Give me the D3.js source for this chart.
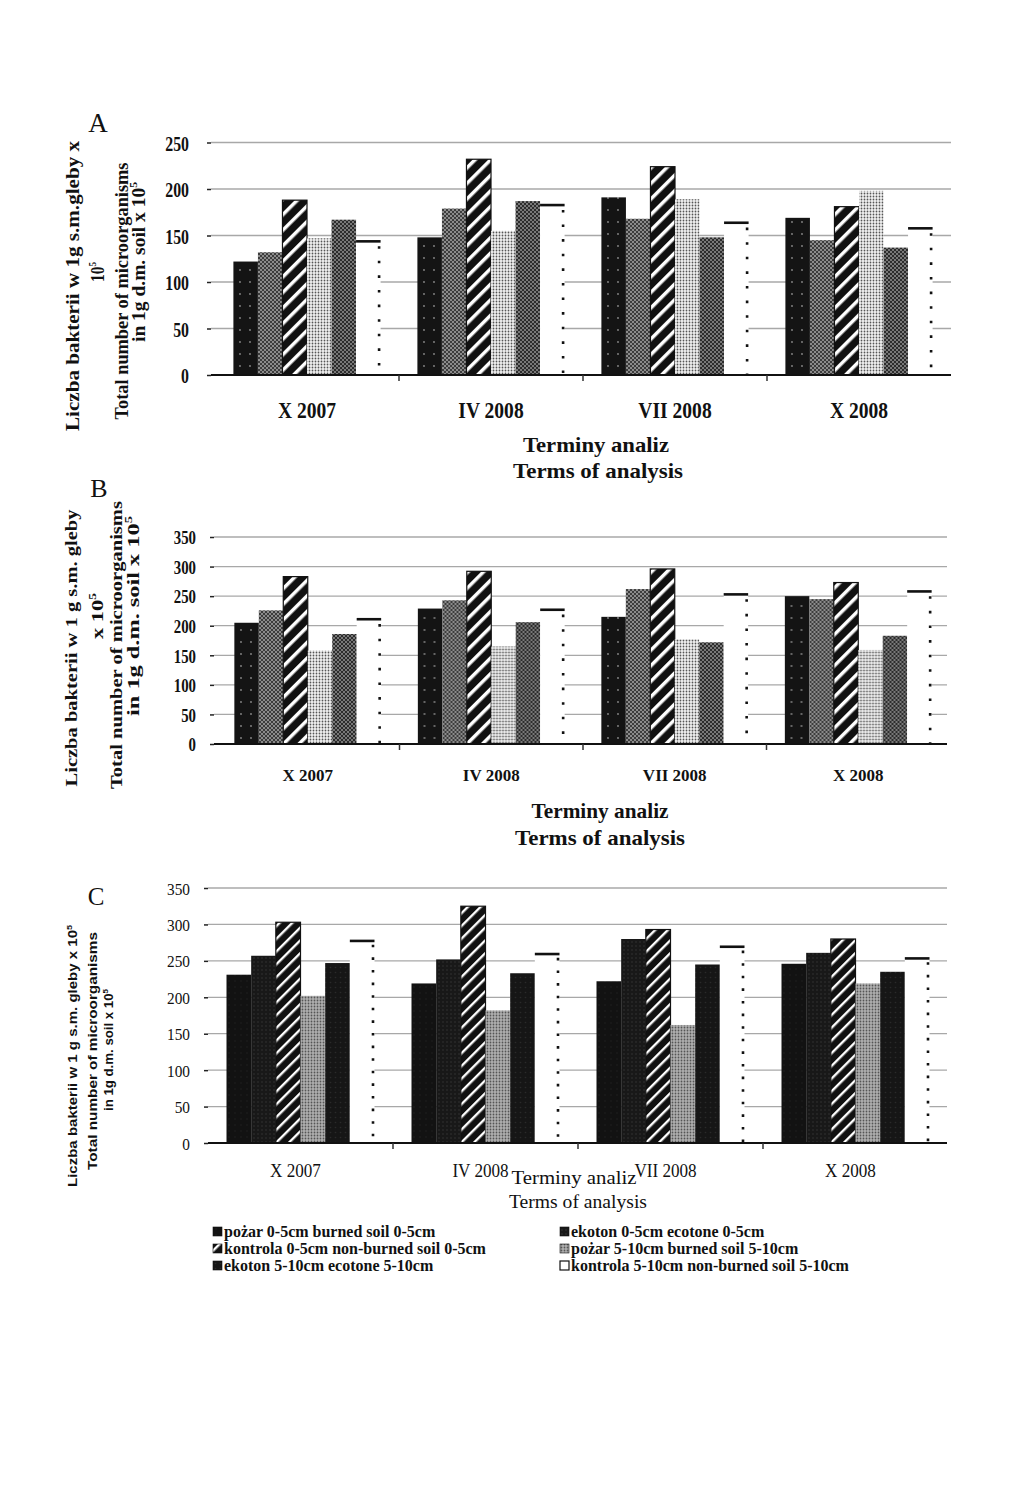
<!DOCTYPE html>
<html>
<head>
<meta charset="utf-8">
<script src="https://cdn.jsdelivr.net/npm/d3@7"></script>
<style>
  body { margin: 0; background: #fff; }
</style>
</head>
<body>
<svg id="chart" width="1024" height="1498"></svg>
<script>
var categories = ["X 2007", "IV 2008", "VII 2008", "X 2008"];
var series = [
  "pożar 0-5cm burned soil 0-5cm",
  "ekoton 0-5cm ecotone 0-5cm",
  "kontrola 0-5cm non-burned soil 0-5cm",
  "pożar 5-10cm burned soil 5-10cm",
  "ekoton 5-10cm ecotone 5-10cm",
  "kontrola 5-10cm non-burned soil 5-10cm"
];
// one row per term of analysis, values in series order
var valuesA = [[122, 132, 188, 147, 167, 145], [148, 179, 232, 155, 187, 184], [191, 168, 224, 189, 148, 165], [169, 145, 181, 198, 137, 159]];
var valuesB = [[205, 226, 283, 158, 186, 213], [229, 243, 292, 165, 206, 229], [215, 262, 296, 177, 172, 255], [250, 245, 273, 159, 183, 260]];
var valuesC = [[231, 257, 303, 202, 247, 279], [219, 252, 325, 182, 233, 261], [222, 280, 293, 162, 245, 271], [246, 261, 280, 219, 235, 255]];
var ticksA = [0, 50, 100, 150, 200, 250];
var ticksBC = [0, 50, 100, 150, 200, 250, 300, 350];

var svg = d3.select("#chart");
var serif = "'Liberation Serif', 'Times New Roman', serif";
var sans = "'Liberation Sans', Arial, sans-serif";

// ---- patterns
var defs = svg.append("defs");

function dots(id, bg, fg, w, h, r) {
  var p = defs.append("pattern").attr("id", id).attr("patternUnits", "userSpaceOnUse")
    .attr("width", w).attr("height", h);
  p.append("rect").attr("width", w).attr("height", h).attr("fill", bg);
  p.append("circle").attr("cx", w / 2).attr("cy", h / 2).attr("r", r).attr("fill", fg);
}
function hatch(id, bg, fg, s, sw) {
  var p = defs.append("pattern").attr("id", id).attr("patternUnits", "userSpaceOnUse")
    .attr("width", s).attr("height", s);
  p.append("rect").attr("width", s).attr("height", s).attr("fill", bg);
  p.append("path").attr("d", "M0,0L" + s + "," + s + "M" + s + ",0L0," + s)
    .attr("stroke", fg).attr("stroke-width", sw);
}
function stripes(id, gap, sw) {
  var p = defs.append("pattern").attr("id", id).attr("patternUnits", "userSpaceOnUse")
    .attr("width", gap).attr("height", gap).attr("patternTransform", "rotate(45)");
  p.append("rect").attr("width", gap).attr("height", gap).attr("fill", "#111");
  p.append("rect").attr("width", sw).attr("height", gap).attr("fill", "#fff");
}

dots("p1", "#141414", "#8a8a8a", 10, 12, 0.9);
hatch("p2", "#3c3c3c", "#a0a0a0", 4, 0.8);
stripes("p3", 11, 3.5);
dots("p4", "#f2f2f2", "#555", 3, 3, 0.9);
hatch("p5", "#2c2c2c", "#8c8c8c", 4, 0.8);

dots("c1", "#121212", "#1e1e1e", 6, 6, 0.8);
dots("c2", "#181818", "#333", 4, 4, 0.8);
stripes("c3", 9, 2.4);
dots("c4", "#b0b0b0", "#555", 3, 3, 0.9);
dots("c5", "#161616", "#2a2a2a", 5, 5, 0.8);

function condense(sel, f) {
  sel.each(function() {
    var w = this.getComputedTextLength();
    d3.select(this).attr("textLength", w * f).attr("lengthAdjust", "spacingAndGlyphs");
  });
}

function rotLine(g, txt, sup, cx, cy, len, font) {
  var t = g.append("text")
    .attr("transform", "translate(" + cx + "," + cy + ") rotate(-90)")
    .attr("text-anchor", "middle")
    .style("font", font)
    .attr("fill", "#111");
  t.append("tspan").text(txt);
  if (sup) t.append("tspan").attr("font-size", "0.6em").attr("dy", "-0.7em").text(sup);
  t.attr("textLength", len).attr("lengthAdjust", "spacingAndGlyphs");
}

function drawPanel(cfg) {
  var g = svg.append("g");
  var x0 = d3.scaleBand().domain(categories).range([cfg.bandL, cfg.bandR]);
  var x1 = d3.scaleBand().domain(d3.range(series.length))
    .range([x0.bandwidth() * 0.1, x0.bandwidth() * 0.9]);
  var y = d3.scaleLinear().domain([0, cfg.yMax]).range([cfg.y0, cfg.yTop]);

  // grid
  g.append("g").selectAll("line").data(cfg.ticks.slice(1)).join("line")
    .attr("x1", cfg.axisL).attr("x2", cfg.axisR)
    .attr("y1", function(d) { return y(d); }).attr("y2", function(d) { return y(d); })
    .attr("stroke", "#a8a8a8").attr("stroke-width", 1.3);

  // y axis ticks and labels
  var yAxis = d3.axisLeft(y).tickValues(cfg.ticks).tickSize(4).tickPadding(cfg.tickPad);
  var ya = g.append("g").attr("transform", "translate(" + cfg.axisL + ",0)").call(yAxis);
  ya.select(".domain").remove();
  ya.selectAll(".tick line").attr("stroke", "#222").attr("stroke-width", 1.5);
  ya.selectAll(".tick text").style("font", cfg.tickFont).attr("fill", "#111").attr("dy", "0.36em");
  condense(ya.selectAll(".tick text"), cfg.tickCond);

  // bars
  var pats = cfg.pats;
  var grp = g.append("g").selectAll("g").data(cfg.values).join("g")
    .attr("transform", function(d, i) { return "translate(" + x0(categories[i]) + ",0)"; });
  var bw = x1.bandwidth();
  grp.selectAll("rect").data(function(d) { return d.slice(0, 5); }).join("rect")
    .attr("x", function(d, i) { return x1(i); })
    .attr("y", function(d) { return y(d); })
    .attr("width", bw)
    .attr("height", function(d) { return y(0) - y(d); })
    .attr("fill", function(d, i) { return "url(#" + pats[i] + ")"; })
    .attr("stroke", function(d, i) { return i === 2 ? "#111" : "none"; })
    .attr("stroke-width", 1.2);
  // white bar: solid top edge, dotted right edge
  grp.append("rect")
    .attr("x", x1(5)).attr("y", function(d) { return y(d[5]); })
    .attr("width", bw).attr("height", function(d) { return y(0) - y(d[5]); })
    .attr("fill", "#fff");
  grp.append("line")
    .attr("x1", x1(5)).attr("x2", x1(5) + bw)
    .attr("y1", function(d) { return y(d[5]) + 1.2; }).attr("y2", function(d) { return y(d[5]) + 1.2; })
    .attr("stroke", "#111").attr("stroke-width", 2.6);
  grp.append("line")
    .attr("x1", x1(5) + bw - 1.5).attr("x2", x1(5) + bw - 1.5)
    .attr("y1", function(d) { return y(d[5]) + cfg.dotGap / 2; }).attr("y2", y(0))
    .attr("stroke", "#111").attr("stroke-width", 2.6)
    .attr("stroke-dasharray", "2.6," + cfg.dotGap);

  // baseline and category separators
  g.append("line").attr("x1", cfg.axisL).attr("x2", cfg.axisR)
    .attr("y1", y(0)).attr("y2", y(0)).attr("stroke", "#111").attr("stroke-width", 2);
  g.append("g").selectAll("line").data(categories.slice(1)).join("line")
    .attr("x1", function(d) { return x0(d); }).attr("x2", function(d) { return x0(d); })
    .attr("y1", y(0)).attr("y2", y(0) + 6)
    .attr("stroke", "#333").attr("stroke-width", 1.5);

  // category labels
  var cl = g.append("g").selectAll("text").data(categories).join("text")
    .attr("x", function(d) { return x0(d) + x0.bandwidth() / 2 + cfg.catDx; })
    .attr("y", cfg.catY)
    .attr("text-anchor", "middle")
    .style("font", cfg.catFont).attr("fill", "#111")
    .text(function(d) { return d; });
  condense(cl, cfg.catCond);

  // x titles
  cfg.titles.forEach(function(t) {
    g.append("text").attr("x", t.x).attr("y", t.y).attr("text-anchor", "middle")
      .style("font", cfg.titleFont).attr("fill", "#111")
      .attr("textLength", t.w).attr("lengthAdjust", "spacingAndGlyphs")
      .text(t.t);
  });

  // y titles
  cfg.yTitles.forEach(function(t) {
    rotLine(g, t.t, t.sup, t.x, t.y, t.len, cfg.yFont);
  });

  // panel letter
  g.append("text").attr("x", cfg.letter.x).attr("y", cfg.letter.y).attr("text-anchor", "middle")
    .style("font", cfg.letter.font).attr("fill", "#111").text(cfg.letter.t);
}

drawPanel({
  values: valuesA, ticks: ticksA, yMax: 250,
  axisL: 211, axisR: 951, bandL: 215, bandR: 951, y0: 375, yTop: 142.5,
  tickPad: 18, tickFont: "bold 22px " + serif, tickCond: 0.72,
  catY: 418, catDx: 0, catFont: "bold 23px " + serif, catCond: 0.85,
  titleFont: "bold 22px " + serif,
  titles: [{ t: "Terminy analiz", x: 596, y: 452, w: 146 }, { t: "Terms of analysis", x: 598, y: 478, w: 170 }],
  yFont: "bold 18px " + serif,
  yTitles: [
    { t: "Liczba bakterii w 1g s.m.gleby x", x: 79, y: 286, len: 290 },
    { t: "10", sup: "5", x: 104, y: 272, len: 20 },
    { t: "Total number of microorganisms", x: 128, y: 291, len: 257 },
    { t: "in 1g d.m. soil x 10", sup: "5", x: 145, y: 262, len: 160 }
  ],
  letter: { t: "A", x: 98, y: 132, font: "27px " + serif },
  pats: ["p1", "p2", "p3", "p4", "p5"], dotGap: 12
});

drawPanel({
  values: valuesB, ticks: ticksBC, yMax: 350,
  axisL: 214, axisR: 947, bandL: 216, bandR: 950, y0: 744, yTop: 537,
  tickPad: 14, tickFont: "bold 19px " + serif, tickCond: 0.78,
  catY: 781, catDx: 0, catFont: "bold 17px " + serif, catCond: 1,
  titleFont: "bold 21px " + serif,
  titles: [{ t: "Terminy analiz", x: 600, y: 818, w: 137 }, { t: "Terms of analysis", x: 600, y: 845, w: 170 }],
  yFont: "bold 17px " + serif,
  yTitles: [
    { t: "Liczba bakterii w 1 g s.m. gleby", x: 77, y: 648, len: 277 },
    { t: "x 10", sup: "5", x: 103, y: 616, len: 46 },
    { t: "Total number of microorganisms", x: 122, y: 645, len: 288 },
    { t: "in 1g d.m. soil x 10", sup: "5", x: 139, y: 616, len: 200 }
  ],
  letter: { t: "B", x: 99, y: 497, font: "26px " + serif },
  pats: ["p1", "p2", "p3", "p4", "p5"], dotGap: 12
});

drawPanel({
  values: valuesC, ticks: ticksBC, yMax: 350,
  axisL: 208, axisR: 947, bandL: 208, bandR: 948, y0: 1143, yTop: 888,
  tickPad: 14, tickFont: "17px " + serif, tickCond: 0.9,
  catY: 1177, catDx: -5, catFont: "18px " + serif, catCond: 0.95,
  titleFont: "18px " + serif,
  titles: [{ t: "Terminy analiz", x: 574, y: 1184, w: 125 }, { t: "Terms of analysis", x: 578, y: 1208, w: 138 }],
  yFont: "bold 13px " + sans,
  yTitles: [
    { t: "Liczba bakterii w 1 g s.m. gleby x 10", sup: "5", x: 77, y: 1056, len: 262 },
    { t: "Total number of microorganisms", x: 97, y: 1051, len: 238 },
    { t: "in 1g d.m. soil x 10", sup: "5", x: 113, y: 1050, len: 122 }
  ],
  letter: { t: "C", x: 96, y: 905, font: "25px " + serif },
  pats: ["c1", "c2", "c3", "c4", "c5"], dotGap: 10
});

// ---- legend (two columns, three rows)
var legPats = ["c1", "c2", "c3", "c4", "c5", null];
var leg = svg.append("g").selectAll("g").data(series).join("g")
  .attr("transform", function(d, i) {
    var col = i % 2, row = Math.floor(i / 2);
    return "translate(" + (col === 0 ? 213 : 560) + "," + (1232 + row * 17) + ")";
  });
leg.append("rect").attr("x", 0).attr("y", -5).attr("width", 9).attr("height", 9)
  .attr("fill", function(d, i) { return legPats[i] ? "url(#" + legPats[i] + ")" : "#fff"; })
  .attr("stroke", "#111").attr("stroke-width", function(d, i) { return legPats[i] ? 0.6 : 1.2; });
leg.append("text").attr("x", 11).attr("y", 5)
  .style("font", "bold 16px " + serif).attr("fill", "#111")
  .text(function(d) { return d; });
</script>
</body>
</html>
